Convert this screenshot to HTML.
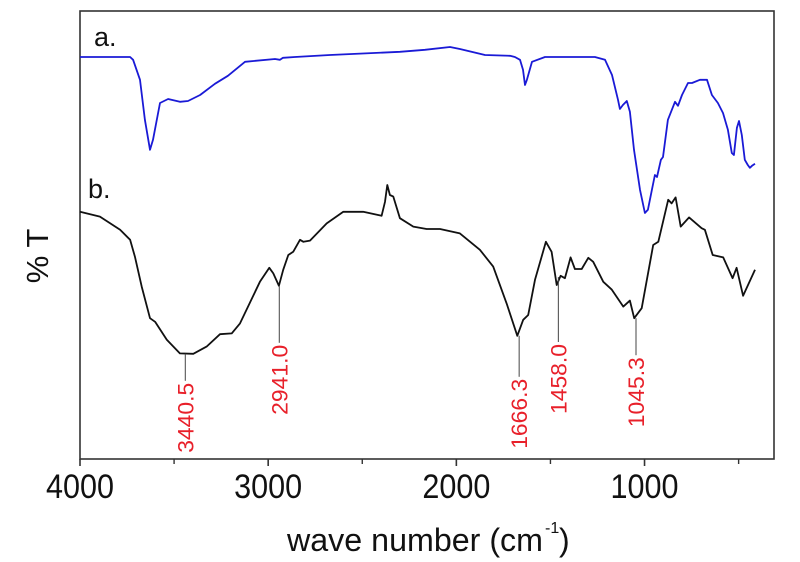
<!DOCTYPE html>
<html><head><meta charset="utf-8"><style>
html,body{margin:0;padding:0;background:#fff;}
svg{display:block;font-family:"Liberation Sans",Arial,sans-serif;}
</style></head><body>
<svg id="chart" width="800" height="562" viewBox="0 0 800 562"></svg>
<script>
const wnA=[4000,3734,3718,3681,3655,3628,3612,3575,3532,3469,3426,3362,3283,3214,3123,2964,2937,2921,2858,2672,2300,2167,2034,1981,1848,1715,1689,1662,1646,1635,1625,1598,1529,1264,1210,1173,1141,1131,1115,1094,1078,1056,1024,998,982,961,945,934,913,902,876,838,822,801,769,748,706,668,642,610,583,557,536,525,509,498,483,467,451,440,429,413];
const tA=[100.5,100.5,99.8,94.8,84.8,77.3,79.8,89,90,89.3,89.5,91,93.8,95.8,99.3,100,99.8,100.3,100.5,101,101.8,102.3,103,102.5,101,100.8,100.5,99.8,97.3,93.5,94.8,99.3,100.5,100.5,99.8,96,89.8,87.5,88.5,89.5,86.8,77.3,67.3,61.5,62.3,67.3,71,70.5,74.8,75.5,84.8,89.3,88.3,91,94,94,94.8,94.8,91,89,86.5,82.3,76.5,76,82.8,84.5,81,74.8,73.5,72.8,73.3,73.8];
const wnB=[4000,3894,3787,3734,3708,3672,3628,3601,3539,3469,3398,3327,3256,3194,3150,3044,2994,2973,2943,2920,2893,2867,2831,2813,2778,2689,2601,2495,2397,2379,2367,2353,2335,2300,2229,2158,2087,1981,1875,1804,1733,1676,1645,1618,1582,1524,1494,1467,1446,1423,1393,1370,1334,1299,1273,1219,1175,1113,1078,1055,1015,954,927,874,856,835,808,763,697,679,638,582,532,511,476,413];
const tB=[61.8,60.6,57.3,54.8,50.6,43.1,35.2,34.3,29.8,26.4,26.3,28.1,31.2,31.4,33.9,44.3,47.8,46.4,43.3,47.3,51,51.8,54.8,54.3,54.6,58.9,61.8,61.8,60.8,64.3,68.5,66,65.6,60.2,58.1,57.5,57.5,56.4,52.3,48.1,38.9,30.8,34.8,36,44.8,54.3,51.8,43.5,45.8,45.2,50.4,47.5,47.5,50.3,49.3,44.3,42.4,38.1,39.6,35.2,37.7,53.5,54.3,64.8,63.9,65.4,58.1,60.4,57.7,57.3,51,50.4,45.2,47.8,40.8,47.3];
const peakLabels=["3440.5","2941.0","1666.3","1458.0","1045.3"];
const peakWn=[3440.5,2941.0,1666.3,1458.0,1045.3];
const peakT=[26.3,43.3,30.8,45.5,35.2];
const peakLen=[27,57,41,65,37];
const majorTicks=[4000,3000,2000,1000];
const minorTicks=[3500,2500,1500,500];

const svg=document.getElementById('chart');
const NS='http://www.w3.org/2000/svg';
const L=80,R=774,T=11,B=459;
const xS=w=>L+(4000-w)*(694/3688);
const yS=t=>B-t*4;
function mk(tag,attrs,parent){const e=document.createElementNS(NS,tag);for(const k in attrs)e.setAttribute(k,attrs[k]);(parent||svg).appendChild(e);return e;}

const frame=mk('rect',{x:L,y:T,width:R-L,height:B-T,fill:'none',stroke:'#333',"stroke-width":1.6});



function line(ws,ts,color,name){
  let d='';ws.forEach((w,i)=>{d+=(i?'L':'M')+xS(w).toFixed(1)+','+yS(ts[i]).toFixed(1);});
  const p=mk('path',{d:d,fill:'none',stroke:color,"stroke-width":1.8,"stroke-linejoin":'round'});
  
  
}
line(wnA,tA,'#1a1ad6','series-a-line');
line(wnB,tB,'#111','series-b-line');

majorTicks.forEach(w=>{
  const t=mk('line',{x1:xS(w),x2:xS(w),y1:B,y2:B+7,stroke:'#333',"stroke-width":1.6});
  
  
  const lb=mk('text',{x:xS(w),y:498,"text-anchor":'middle',"font-size":34,fill:'#111',textLength:68,lengthAdjust:'spacingAndGlyphs'});
  lb.textContent=w;
  
  
});
minorTicks.forEach(w=>{
  const t=mk('line',{x1:xS(w),x2:xS(w),y1:B,y2:B+5,stroke:'#333',"stroke-width":1.4});
  
  
});

peakWn.forEach((w,i)=>{
  const x=xS(w),y0=yS(peakT[i]),y1=y0+peakLen[i];
  const ln=mk('line',{x1:x,x2:x,y1:y0,y2:y1,stroke:'#444',"stroke-width":1});
  
  
  const tx=mk('text',{x:x+8,y:y1+2,"text-anchor":'end',"font-size":22,fill:'#e8202a',textLength:70,lengthAdjust:'spacingAndGlyphs',transform:`rotate(-90 ${x+8} ${y1+2})`});
  tx.textContent=peakLabels[i];
  
  
});
</script>
<script>
(function(){
const svg=document.getElementById('chart');const NS='http://www.w3.org/2000/svg';
function t(txt,attrs,name){const e=document.createElementNS(NS,'text');for(const k in attrs)e.setAttribute(k,attrs[k]);e.textContent=txt;svg.appendChild(e);


return e;}
t('a.',{x:94,y:46,"font-size":27,fill:'#111'},'series-a-label');
t('b.',{x:88,y:198,"font-size":27,fill:'#111'},'series-b-label');
t('wave number (cm',{x:287,y:551,"font-size":32,fill:'#111',textLength:256,lengthAdjust:'spacingAndGlyphs'},'x-axis-title');
t('-1',{x:545,y:533,"font-size":16,fill:'#111'},'x-axis-title-superscript');
t(')',{x:559,y:551,"font-size":32,fill:'#111'},'x-axis-title-close');
t('% T',{x:48,y:256,"font-size":31,fill:'#111',"text-anchor":'middle',transform:'rotate(-90 48 256)'},'y-axis-title');
})();
</script>
</body></html>
